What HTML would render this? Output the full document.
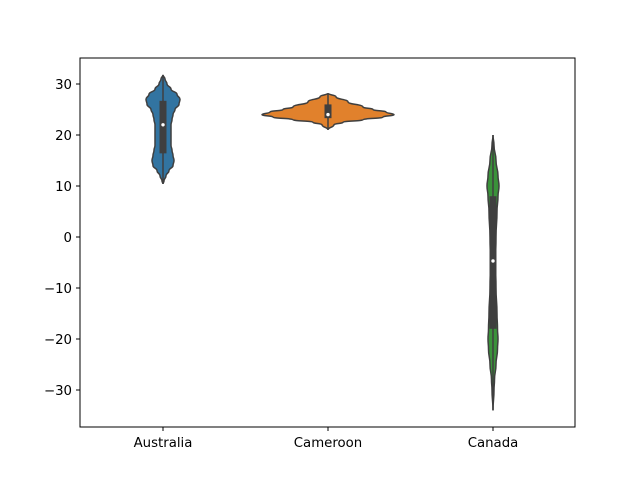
<!DOCTYPE html>
<html><head><meta charset="utf-8"><style>
body{margin:0;background:#fff}
svg text{font-family:"DejaVu Sans","Liberation Sans",sans-serif;font-size:13.3px;fill:#000}
</style></head><body>
<svg id="chart" width="640" height="480">
<rect x="0" y="0" width="640" height="480" fill="#fff"/>
<g id="plot"></g>
<rect x="80" y="58" width="495" height="369" fill="none" stroke="#000" stroke-width="1"/>
<g id="axes"></g>
</svg>
<script>
const categories = ["Australia", "Cameroon", "Canada"];
const colors = ["#3274a1", "#e1812c", "#3a923a"];
const yTicks = [30, 20, 10, 0, -10, -20, -30];
const ausVals = [31.8, 31, 30, 29, 28, 27, 26, 25, 24, 23, 22, 21, 20, 19, 18, 17, 16, 15, 14, 13, 12, 11, 10.4];
const ausDens = [0, 2, 4, 8, 14, 17, 16, 12, 10, 9, 8, 8, 8, 8, 8, 9, 10, 11, 10, 6, 3, 1, 0];
const camVals = [28.2, 27.5, 26.5, 25.5, 25, 24.5, 24, 23.5, 23, 22.5, 22, 21];
const camDens = [0, 8, 20, 35, 45, 58, 66, 55, 35, 15, 6, 0];
const canVals = [20, 18, 15, 12, 10, 8, 5, 0, -5, -10, -15, -18, -20, -22, -25, -28, -30, -34];
const canDens = [0, 1, 3, 5, 6, 5, 4, 3, 2.5, 3, 4, 4.5, 5, 4.5, 3, 1.5, 1, 0];
const q1 = [16.4, 23.3, -18];
const q3 = [26.7, 26, 8];
const medians = [22, 24, -4.7];

const profiles = [[ausVals, ausDens], [camVals, camDens], [canVals, canDens]];
const y = v => 237 - v * 5.1;
const x = i => 163 + i * 165;
const NS = "http://www.w3.org/2000/svg";
function mk(tag, attrs, parent) { const e = document.createElementNS(NS, tag); for (const k in attrs) e.setAttribute(k, attrs[k]); parent.appendChild(e); return e; }
const plot = document.getElementById("plot");
const axes = document.getElementById("axes");

categories.forEach((c, i) => {
  const [vals, dens] = profiles[i];
  const cx = x(i);
  const right = vals.map((v, j) => [cx + dens[j], y(v)]);
  const left = vals.map((v, j) => [cx - dens[j], y(v)]).reverse();
  const pts = right.concat(left);
  let d = "M" + pts[0][0] + "," + pts[0][1];
  for (let k = 1; k < pts.length; k++) {
    const p0 = pts[k - 1], p1 = pts[k], my = (p0[1] + p1[1]) / 2;
    d += " C" + p0[0] + "," + my + " " + p1[0] + "," + my + " " + p1[0] + "," + p1[1];
  }
  d += "Z";
  const body = mk("path", { d: d, fill: colors[i], stroke: "#3f3f3f", "stroke-width": 1.5 }, plot);
  
  
  const wh = mk("line", { x1: cx, x2: cx, y1: y(vals[0]), y2: y(vals[vals.length - 1]), stroke: "#3f3f3f", "stroke-width": 1.5 }, plot);
  
  
  const box = mk("rect", { x: cx - 3.5, y: y(q3[i]), width: 7, height: y(q1[i]) - y(q3[i]), fill: "#3f3f3f" }, plot);
  
  
  const med = mk("circle", { cx: cx, cy: y(medians[i]), r: 1.7, fill: "#fff" }, plot);
  
  
  mk("line", { x1: cx, x2: cx, y1: 427, y2: 431, stroke: "#000" }, axes);
  const t = mk("text", { x: cx, y: 447, "text-anchor": "middle" }, axes);
  t.textContent = c;
  
  
});
yTicks.forEach(v => {
  mk("line", { x1: 76, x2: 80, y1: y(v), y2: y(v), stroke: "#000" }, axes);
  const t = mk("text", { x: 72, y: y(v) + 5, "text-anchor": "end" }, axes);
  t.textContent = v < 0 ? "\u2212" + Math.abs(v) : String(v);
  
  
});
</script>
</body></html>
